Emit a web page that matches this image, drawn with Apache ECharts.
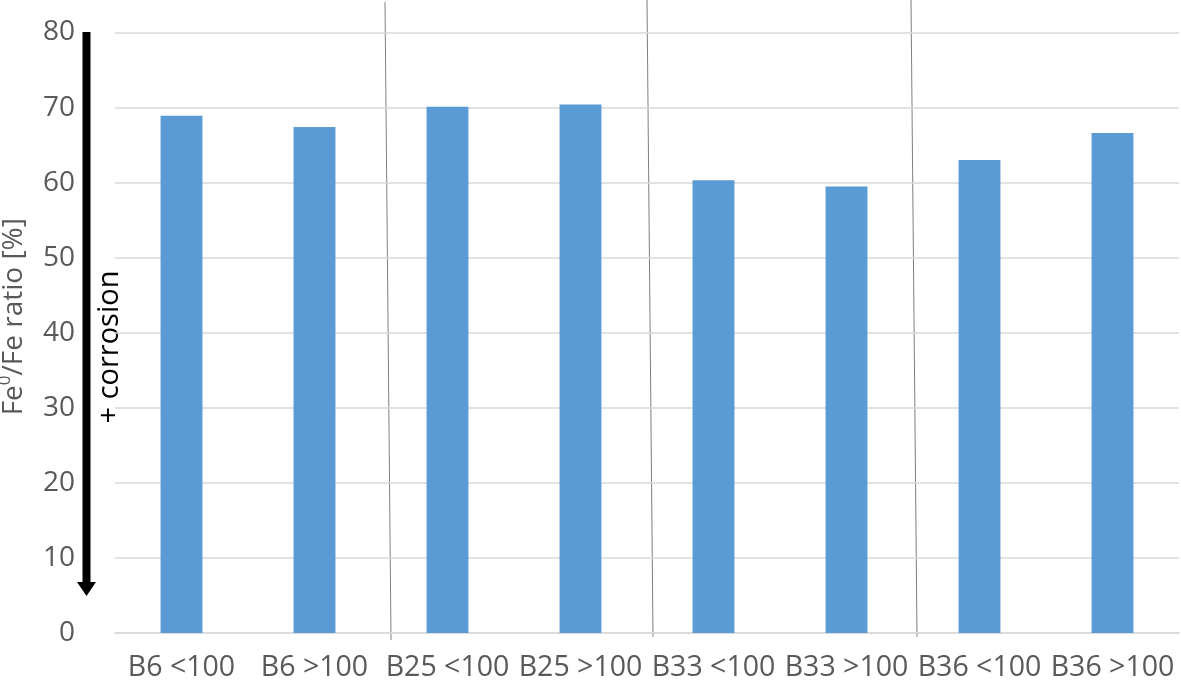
<!DOCTYPE html>
<html>
<head>
<meta charset="utf-8">
<script src="https://cdn.jsdelivr.net/npm/echarts@6/dist/echarts.min.js"></script>
<style>
    html, body { margin: 0; padding: 0; background: #fff; }
    #chart { width: 1181px; height: 687px; }
</style>
</head>
<body>
<div id="chart"></div>
<script>
    // 样品类别
    var categories = ['B6 <100', 'B6 >100', 'B25 <100', 'B25 >100', 'B33 <100', 'B33 >100', 'B36 <100', 'B36 >100'];
    // Fe0/Fe 比例 (%)
    var ratioValues = [68.9, 67.4, 70.1, 70.4, 60.3, 59.5, 63.0, 66.6];
    var yTicks = [0, 10, 20, 30, 40, 50, 60, 70, 80];

    var textColor = '#595959';
    var myChart = echarts.init(document.getElementById('chart'));
    myChart.setOption({
        animation: false,
        grid: {
            left: 115,
            right: 2,
            top: 32.5,
            bottom: 54,
            containLabel: false,
            outerBoundsMode: 'none'
        },
        xAxis: {
            type: 'category',
            data: categories,
            axisLine: { lineStyle: { color: '#d9d9d9', width: 1.5 } },
            axisTick: { show: false },
            axisLabel: {
                interval: 0,
                margin: 20,
                color: textColor,
                fontSize: 28.5,
                fontFamily: 'Open Sans'
            }
        },
        yAxis: {
            type: 'value',
            min: yTicks[0],
            max: yTicks[yTicks.length - 1],
            interval: 10,
            // 前面的空白片段用来把标题往上挪
            name: '{p|}{a|Fe}{s|0}{a|/Fe ratio [%]}',
            nameLocation: 'middle',
            nameGap: 84,
            nameTextStyle: {
                rich: {
                    p: { width: 32 },
                    a: { fontSize: 28, color: textColor, fontFamily: 'Open Sans', lineHeight: 34 },
                    s: { fontSize: 17, color: textColor, fontFamily: 'Open Sans', verticalAlign: 'top', lineHeight: 21 }
                }
            },
            axisLine: { show: false },
            axisTick: { show: false },
            axisLabel: {
                margin: 40,
                color: textColor,
                fontSize: 28,
                fontFamily: 'Open Sans'
            },
            splitLine: { lineStyle: { color: '#d9d9d9', width: 1.5 } }
        },
        series: [{
            type: 'bar',
            data: ratioValues,
            barWidth: '31.5%',
            itemStyle: { color: '#5b9bd5' }
        }],
        graphic: [
            // 分隔线
            { type: 'line', shape: { x1: 385, y1: 2, x2: 391, y2: 640 }, style: { stroke: '#7f7f7f', lineWidth: 1 } },
            { type: 'line', shape: { x1: 647, y1: 0, x2: 653, y2: 637 }, style: { stroke: '#7f7f7f', lineWidth: 1 } },
            { type: 'line', shape: { x1: 911, y1: 0, x2: 917, y2: 637 }, style: { stroke: '#7f7f7f', lineWidth: 1 } },
            // 腐蚀箭头
            { type: 'line', shape: { x1: 86.5, y1: 32, x2: 86.5, y2: 583 }, style: { stroke: '#000', lineWidth: 8 } },
            { type: 'polygon', shape: { points: [[77, 582], [96, 582], [86.5, 596]] }, style: { fill: '#000' } },
            {
                type: 'text',
                x: 110, y: 347,
                rotation: Math.PI / 2,
                style: {
                    text: '+ corrosion',
                    fill: '#000',
                    fontSize: 29,
                    fontFamily: 'Open Sans',
                    align: 'center',
                    verticalAlign: 'middle'
                }
            }
        ]
    });
</script>
</body>
</html>
